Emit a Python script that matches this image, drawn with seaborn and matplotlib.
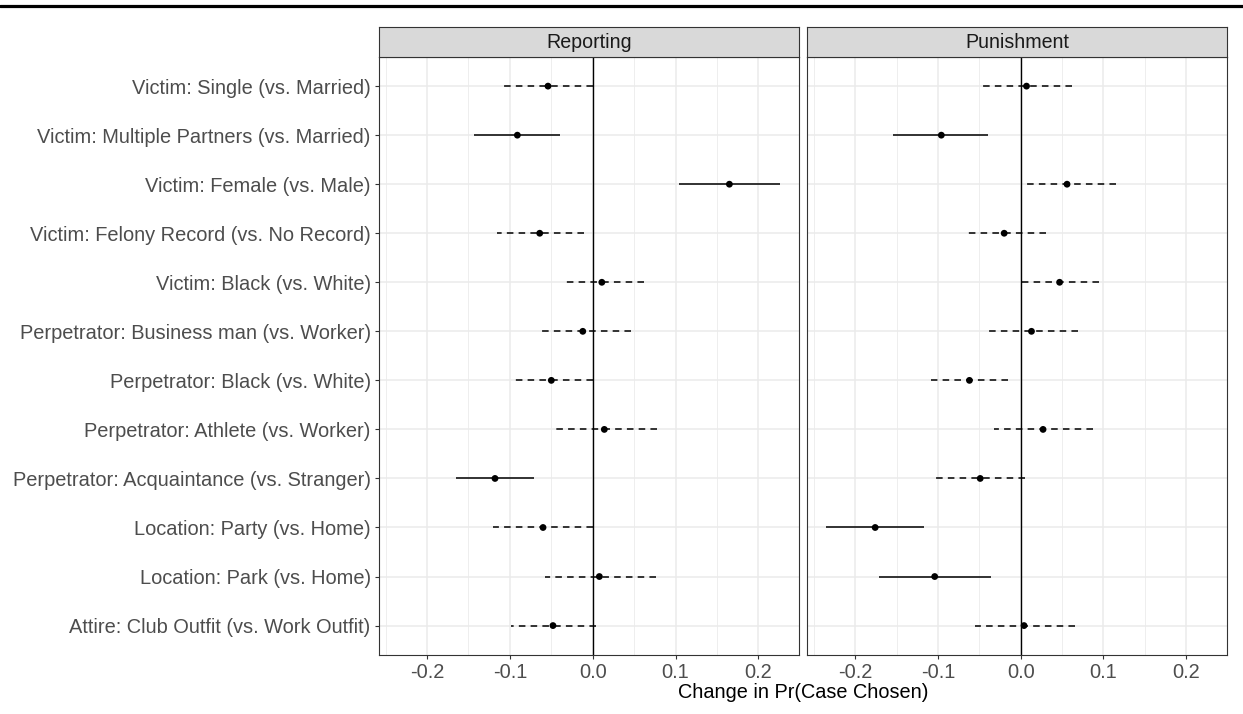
import numpy as np
import pandas as pd
import matplotlib
matplotlib.use("Agg")
import matplotlib.pyplot as plt
from matplotlib.lines import Line2D
import seaborn as sns

# ---------------- data ----------------
attributes = [
    "Victim: Single (vs. Married)",
    "Victim: Multiple Partners (vs. Married)",
    "Victim: Female (vs. Male)",
    "Victim: Felony Record (vs. No Record)",
    "Victim: Black (vs. White)",
    "Perpetrator: Business man (vs. Worker)",
    "Perpetrator: Black (vs. White)",
    "Perpetrator: Athlete (vs. Worker)",
    "Perpetrator: Acquaintance (vs. Stranger)",
    "Location: Party (vs. Home)",
    "Location: Park (vs. Home)",
    "Attire: Club Outfit (vs. Work Outfit)",
]
panels = ["Reporting", "Punishment"]

rep_est = [-0.054, -0.091, 0.165, -0.064, 0.011, -0.012, -0.050, 0.014, -0.118, -0.060, 0.008, -0.048]
rep_lo = [-0.108, -0.143, 0.104, -0.116, -0.033, -0.064, -0.096, -0.048, -0.165, -0.120, -0.058, -0.099]
rep_hi = [0.000, -0.039, 0.226, -0.011, 0.062, 0.046, 0.000, 0.078, -0.071, 0.000, 0.076, 0.004]
rep_significant = [False, True, True, False, False, False, False, False, True, False, False, False]

pun_est = [0.007, -0.096, 0.056, -0.020, 0.047, 0.013, -0.062, 0.027, -0.049, -0.176, -0.104, 0.004]
pun_lo = [-0.048, -0.154, 0.004, -0.066, 0.000, -0.041, -0.108, -0.032, -0.103, -0.235, -0.171, -0.055]
pun_hi = [0.062, -0.039, 0.115, 0.030, 0.095, 0.069, -0.015, 0.087, 0.005, -0.117, -0.036, 0.066]
pun_significant = [False, True, False, False, False, False, False, False, False, True, True, False]

x_ticks = [-0.2, -0.1, 0.0, 0.1, 0.2]
x_tick_labels = ["-0.2", "-0.1", "0.0", "0.1", "0.2"]
x_minor = [-0.25, -0.15, -0.05, 0.05, 0.15, 0.25]
x_title = "Change in Pr(Case Chosen)"

# ---------------- build table ----------------
frames = []
for name, est, lo, hi, sig in [("Reporting", rep_est, rep_lo, rep_hi, rep_significant),
                               ("Punishment", pun_est, pun_lo, pun_hi, pun_significant)]:
    d = pd.DataFrame({"attribute": attributes, "est": est, "lo": lo, "hi": hi, "sig": sig})
    d["panel"] = name
    d["pos"] = np.arange(len(attributes))
    frames.append(d)
df = pd.concat(frames, ignore_index=True)

xmin_d, xmax_d = df["lo"].min(), df["hi"].max()
pad = 0.05 * (xmax_d - xmin_d)
xlim = (xmin_d - pad, xmax_d + pad)
n = len(attributes)

# ---------------- style ----------------
sns.set_theme(style="white")
plt.rcParams['font.family'] = ['Liberation Sans', 'DejaVu Sans']

W, H = 1243, 714
fig = plt.figure(figsize=(W / 100, H / 100), dpi=100)
fig.patch.set_facecolor("white")

panel_px = [(379, 799), (807.3, 1226.7)]
top_px, bot_px = 56.7, 655
strip_top = 27.3
tick_fs = 14.4

for i, (pname, (x0, x1)) in enumerate(zip(panels, panel_px)):
    ax = fig.add_axes([x0 / W, 1 - bot_px / H, (x1 - x0) / W, (bot_px - top_px) / H])
    ax.set_facecolor("white")
    sub = df[df["panel"] == pname]

    # grid
    for xv in x_minor:
        ax.axvline(xv, color="#EBEBEB", lw=0.6, zorder=0)
    for xv in x_ticks:
        ax.axvline(xv, color="#EBEBEB", lw=1.1, zorder=0)
    for yv in sub["pos"]:
        ax.axhline(yv, color="#EBEBEB", lw=1.1, zorder=0)

    ax.axvline(0, color="black", lw=1.0, zorder=2)

    s = sub[sub["sig"]]
    ns = sub[~sub["sig"]]
    ax.hlines(s["pos"], s["hi"], s["lo"], color="black", lw=1.1, zorder=3)
    ax.hlines(ns["pos"], ns["hi"], ns["lo"], color="black", lw=1.1,
              linestyles=[(0, (4.3, 3.4))], zorder=3)

    sns.scatterplot(data=sub, x="est", y="pos", ax=ax, color="black", s=24,
                    edgecolor="none", linewidth=0, zorder=4, legend=False)

    ax.set_xlim(*xlim)
    ax.set_ylim(n - 1 + 0.6, -0.6)
    ax.set_xticks(x_ticks)
    ax.set_xticklabels(x_tick_labels)
    ax.set_xlabel("")
    ax.set_ylabel("")
    ax.tick_params(axis="x", bottom=True, length=3.0, width=0.8, color="#333333",
                   pad=2.6, labelsize=tick_fs, labelcolor="#4D4D4D")
    if i == 0:
        ax.set_yticks(sub["pos"])
        ax.set_yticklabels(sub["attribute"])
        ax.tick_params(axis="y", left=True, length=3.0, width=0.8, color="#333333",
                       pad=3.0, labelsize=tick_fs, labelcolor="#4D4D4D")
    else:
        ax.set_yticks(sub["pos"])
        ax.tick_params(axis="y", left=False, labelleft=False)
    for sp in ax.spines.values():
        sp.set_color("#333333")
        sp.set_linewidth(0.8)
        sp.set_visible(True)
    ax.grid(False)

    # strip
    sax = fig.add_axes([x0 / W, 1 - top_px / H, (x1 - x0) / W, (top_px - strip_top) / H])
    sax.set_facecolor("#D9D9D9")
    sax.set_xticks([])
    sax.set_yticks([])
    for sp in sax.spines.values():
        sp.set_color("#333333")
        sp.set_linewidth(0.8)
        sp.set_visible(True)
    sax.text(0.5, 0.5, pname, ha="center", va="center", fontsize=14.1,
             color="#1A1A1A", transform=sax.transAxes)

fig.text((panel_px[0][0] + panel_px[1][1]) / 2 / W, 1 - 693 / H, x_title,
         ha="center", va="center", fontsize=14.3, color="black")

fig.add_artist(Line2D([0, 1], [1 - 5.5 / H, 1 - 5.5 / H], color="black", lw=2.3,
                      transform=fig.transFigure))

fig.savefig("out.png", dpi=100)
